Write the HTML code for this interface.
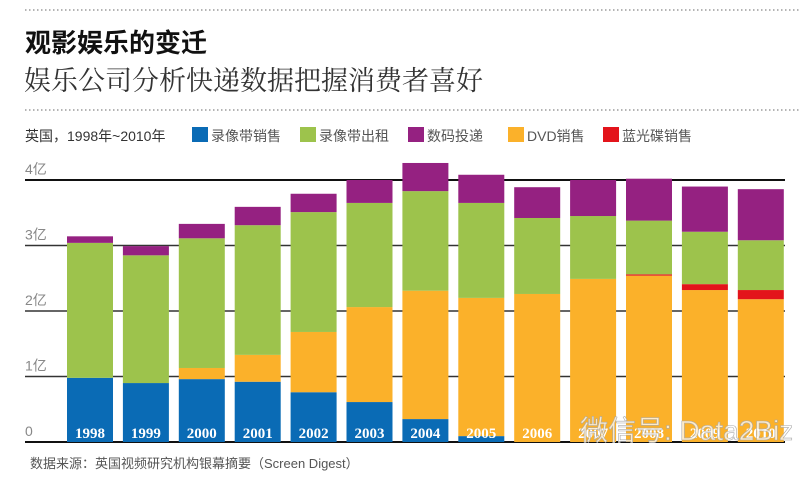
<!DOCTYPE html>
<html><head><meta charset="utf-8">
<style>
body{margin:0;background:#fff;width:803px;height:477px;overflow:hidden;font-family:"Liberation Sans","Noto Sans CJK SC",sans-serif;}
svg{display:block}
</style></head>
<body>
<svg id="chart" width="803" height="477" viewBox="0 0 803 477" xmlns="http://www.w3.org/2000/svg">
<line x1="25" y1="10" x2="800" y2="10" stroke="#888" stroke-width="1.2" stroke-dasharray="1.5,2.5"/>
<text x="25" y="52" font-size="26" font-weight="bold" fill="#111" font-family="'Noto Sans CJK SC',sans-serif">观影娱乐的变迁</text>
<text x="24" y="90" font-size="27" fill="#333" font-family="'Noto Serif CJK SC',serif">娱乐公司分析快递数据把握消费者喜好</text>
<line x1="25" y1="110" x2="800" y2="110" stroke="#888" stroke-width="1.2" stroke-dasharray="1.5,2.5"/>
<text x="25" y="141" font-size="14" fill="#333">英国，1998年~2010年</text>
<g id="legend"></g>
<g id="grid"></g>
<g id="bars"></g>
<text x="30" y="468" font-size="13" fill="#555">数据来源：英国视频研究机构银幕摘要（Screen Digest）</text>
<text x="580" y="440" font-size="28" fill="#fff" fill-opacity="0.75" stroke="#aaa" stroke-width="0.6">微信号: Data2Biz</text>
</svg>
<script>
const years=["1998","1999","2000","2001","2002","2003","2004","2005","2006","2007","2008","2009","2010"];
const vhsSales=[0.98,0.90,0.96,0.92,0.76,0.61,0.35,0.09,0,0,0,0,0];
const dvdSales=[0,0,0.17,0.41,0.92,1.45,1.96,2.11,2.26,2.49,2.54,2.32,2.18];
const bluraySales=[0,0,0,0,0,0,0,0,0,0,0.02,0.09,0.14];
const vhsRental=[2.06,1.95,1.98,1.98,1.83,1.59,1.52,1.45,1.16,0.96,0.82,0.80,0.76];
const digital=[0.10,0.14,0.22,0.28,0.28,0.35,0.43,0.43,0.47,0.55,0.64,0.69,0.78];
const yTicks=[0,1,2,3,4];
const yTickLabels=["0","1亿","2亿","3亿","4亿"];
const legendNames=["录像带销售","录像带出租","数码投递","DVD销售","蓝光碟销售"];

const NS="http://www.w3.org/2000/svg";
const y0=442,pxPer=65.5;
const yScale=v=>y0-v*pxPer;
const xCenter=i=>90+i*55.9;
const bw=46;
function mk(tag,attrs,parent){const e=document.createElementNS(NS,tag);for(const k in attrs)e.setAttribute(k,attrs[k]);parent.appendChild(e);return e;}

const grid=document.getElementById('grid');
yTicks.forEach((t,i)=>{
  const y=yScale(t);
  const strong=(t===0||t===yTicks[yTicks.length-1]);
  const l=mk('line',{x1:25,x2:785,y1:y,y2:y,stroke:strong?'#111':'#333','stroke-width':strong?2:1.5},grid);
  
  
  const tx=mk('text',{x:25,y:y-6,'font-size':14,fill:'#888'},grid);
  tx.textContent=yTickLabels[i];
  
  
});

const series=[
 {vals:vhsSales,color:'#0a6bb5',name:'vhs-sales'},
 {vals:dvdSales,color:'#fbb12a',name:'dvd-sales'},
 {vals:bluraySales,color:'#e3141b',name:'bluray-sales'},
 {vals:vhsRental,color:'#9dc34c',name:'vhs-rental'},
 {vals:digital,color:'#952181',name:'digital-delivery'}
];
const bars=document.getElementById('bars');
years.forEach((yr,i)=>{
  let base=0;
  const x=xCenter(i)-bw/2;
  series.forEach(s=>{
    const v=s.vals[i];
    if(v>0){
      const r=mk('rect',{x:x,y:yScale(base+v),width:bw,height:v*pxPer,fill:s.color},bars);
      
      
    }
    base+=v;
  });
  const t=mk('text',{x:xCenter(i),y:438,'text-anchor':'middle','font-size':15,'font-weight':'bold',fill:'#fff','font-family':"'Liberation Serif',serif"},bars);
  t.textContent=yr;
  
  
});

const legend=document.getElementById('legend');
const legendColors=['#0a6bb5','#9dc34c','#952181','#fbb12a','#e3141b'];
const legendX=[192,300,408,508,603];
legendNames.forEach((n,i)=>{
  const r=mk('rect',{x:legendX[i],y:127,width:16,height:15,fill:legendColors[i]},legend);
  
  
  const t=mk('text',{x:legendX[i]+19,y:141,'font-size':14,fill:'#555'},legend);
  t.textContent=n;
  
  
});
</script>
</body></html>
